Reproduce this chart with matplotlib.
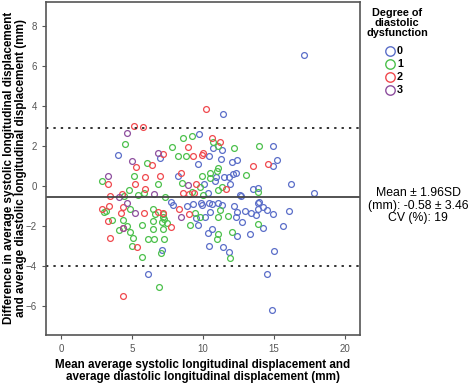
import matplotlib
matplotlib.use("Agg")
import matplotlib.pyplot as plt
from matplotlib.lines import Line2D

plt.rcParams["font.family"] = ["Liberation Sans", "DejaVu Sans"]

# ---------- data -------------------------------------------------------------
grade0_x = [17.09, 11.39, 9.74, 10.73, 11.31, 14.9, 4.04, 6.97, 10.4, 11.27, 12.02,
            12.37, 15.23, 9.67, 14.9, 8.26, 10.92, 11.48, 11.83, 12.11, 12.35, 10.85,
            11.9, 10.1, 16.18, 17.8, 10.37, 12.6, 13.5, 13.9, 7.72, 7.86, 8.85, 9.27,
            9.86, 9.91, 9.51, 9.67, 10.14, 10.42, 10.61, 10.49, 11.03, 11.36, 12.2,
            12.37, 12.3, 12.72, 12.96, 13.38, 13.73, 13.85, 13.96, 13.9, 14.25, 14.49,
            14.95, 16.08, 15.66, 10.33, 10.61, 13.31, 14.25, 10.42, 11.43, 11.83,
            12.37, 15.0, 14.53, 14.84, 12.68, 7.09, 6.13]
grade0_y = [6.53, 3.57, 2.57, 1.87, 1.78, 1.98, 1.53, 1.4, 1.48, 1.32, 1.17,
            1.27, 1.29, 1.07, 0.98, 0.5, 0.44, 0.45, 0.45, 0.6, 0.62, 0.24,
            0.07, 0.1, 0.07, -0.38, -0.38, -0.47, -0.18, -0.13, -0.83, -0.97, -1.02, -0.92,
            -0.85, -0.97, -1.63, -1.97, -1.55, -0.85, -0.93, -1.3, -0.88, -0.97, -1.02,
            -1.3, -1.58, -1.8, -1.25, -1.38, -1.47, -0.85, -0.8, -1.18, -1.08, -1.22,
            -1.42, -1.25, -2.0, -2.35, -2.18, -2.42, -2.1, -3.02, -3.05, -3.33,
            -2.5, -3.27, -4.43, -6.22, -0.5, -3.22, -4.42]

grade1_x = [4.5, 8.57, 9.25, 7.79, 8.21, 8.8, 10.73, 11.08, 12.2, 13.96, 6.08, 5.16,
            9.91, 10.5, 11.08, 10.96, 10.49, 13.03, 2.91, 6.85, 8.5, 9.79, 11.31, 11.08,
            13.9, 4.8, 5.87, 7.32, 9.2, 10.0, 4.46, 5.45, 6.5, 7.16, 7.25, 7.44, 7.09,
            6.45, 5.68, 6.45, 7.16, 6.15, 6.57, 7.25, 7.04, 5.68, 6.93, 9.08, 9.44,
            9.79, 3.15, 3.0, 3.61, 4.39, 4.11, 4.63, 4.88, 5.09, 5.02, 11.2, 11.08,
            11.74, 11.03, 10.96, 12.02, 13.9, 11.9, 4.83, 6.6, 7.18]
grade1_y = [2.07, 2.37, 2.48, 1.95, 1.5, 1.5, 2.2, 1.98, 1.9, 1.98, 1.12, 0.5,
            0.48, 0.62, 0.87, 0.73, 0.4, 0.53, 0.24, 0.07, 0.15, -0.05, -0.05, -0.22,
            -0.3, -0.2, -0.38, -0.58, -0.3, -0.45, -0.52, -0.47, -1.18, -1.55, -1.68, -1.88, -1.8,
            -1.75, -1.97, -2.18, -2.18, -2.68, -2.68, -2.68, -3.38, -3.55, -5.08, -1.97, -1.35,
            -1.58, -1.25, -1.3, -1.72, -1.72, -2.22, -2.02, -2.3, -2.6, -3.02, -1.22, -1.55,
            -1.52, -2.42, -2.68, -2.3, -1.92, -3.63, -1.18, -1.42, -1.42]

grade2_x = [10.21, 5.16, 5.8, 10.61, 11.2, 8.97, 9.32, 9.91, 10.02, 7.21, 6.39, 5.26,
            13.54, 14.6, 5.92, 6.97, 8.43, 3.29, 5.21, 9.51, 5.92, 11.6, 8.61, 9.37,
            9.04, 3.45, 4.27, 2.86, 3.4, 4.23, 4.39, 3.29, 3.45, 5.37, 4.34, 5.87,
            6.85, 7.21, 7.72, 8.33, 9.04, 4.39]
grade2_y = [3.83, 3.0, 2.92, 2.37, 2.2, 1.95, 1.48, 1.53, 1.62, 1.57, 1.03, 0.95,
            0.98, 1.07, 0.45, 0.48, 0.62, 0.07, 0.07, 0.07, -0.17, -0.17, -0.38, -0.38,
            -0.42, -0.5, -0.43, -1.17, -1.02, -1.35, -1.05, -1.75, -2.63, -3.05, -5.52, -1.38,
            -1.3, -1.38, -2.05, -1.18, -1.42, -2.13]

grade3_x = [4.62, 6.85, 4.98, 3.29, 8.97, 6.55, 4.11, 4.67, 5.21, 4.39, 8.45]
grade3_y = [2.62, 1.62, 1.24, 0.5, 0.03, -0.42, -0.58, -0.88, -1.38, -2.13, -1.58]

grades = ["0", "1", "2", "3"]
mean_diff = -0.58
loa = 3.46
cv = 19

BLUE   = "#5b6ec8"
GREEN  = "#4cc04c"
RED    = "#f0494e"
PURPLE = "#8e4f9e"
FRAME  = "#555555"

W, H = 472, 385


def fx(px):
    return px / W


def fy(py):
    return 1 - py / H


# ---------- figure -----------------------------------------------------------
fig = plt.figure(figsize=(W / 100, H / 100), dpi=100)
ax = fig.add_axes([fx(46), fy(335), fx(360) - fx(46), fy(2) - fy(335)])

series = [(grade0_x, grade0_y, BLUE), (grade1_x, grade1_y, GREEN),
          (grade2_x, grade2_y, RED), (grade3_x, grade3_y, PURPLE)]
for xs, ys, col in series:
    ax.plot(xs, ys, ls="none", marker="o", ms=4.2, mfc="none", mec=col, mew=0.9)

ax.axhline(mean_diff, color="#444444", lw=1.3)
for y in (mean_diff + loa, mean_diff - loa):
    ax.axhline(y, color="#333333", lw=1.4, ls=(0, (1.2, 2.6)))

ax.set_xlim(-1.05, 21.05)
ax.set_ylim(-7.47, 9.2)
ax.set_xticks([0, 5, 10, 15, 20])
ax.set_yticks([-6, -4, -2, 0, 2, 4, 6, 8])
ax.tick_params(labelsize=7, colors=FRAME, length=3, width=0.8)
for s in ax.spines.values():
    s.set_color(FRAME)
    s.set_linewidth(1.2)

# axis titles placed by hand, as in the reference
fig.text(fx(203), fy(371),
         "Mean average systolic longitudinal displacement and\n"
         "average diastolic longitudinal displacement (mm)",
         ha="center", va="center", fontsize=8.4, fontweight="bold", linespacing=1.0)
fig.text(fx(15), fy(168), 
         "Difference in average systolic longitudinal displacement\n"
         "and average diastolic longitudinal displacement (mm)",
         ha="center", va="center", rotation=90,
         fontsize=8.4, fontweight="bold", linespacing=1.0)

# legend, drawn by hand
fig.text(fx(397), fy(23), "Degree of\ndiastolic\ndysfunction",
         ha="center", va="center", fontsize=7.8, fontweight="bold", linespacing=0.95)
for i, (lab, col) in enumerate(zip(grades, (BLUE, GREEN, RED, PURPLE))):
    yy = fy(51 + 13 * i)
    fig.add_artist(Line2D([fx(390)], [yy], ls="none", marker="o", ms=6.8,
                          mfc="none", mec=col, mew=1.0))
    fig.text(fx(397), yy, lab, ha="left", va="center",
             fontsize=7.8, fontweight="bold")

fig.text(fx(418), fy(205.5),
         "Mean ± 1.96SD\n(mm): %.2f ± %.2f\nCV (%%): %d" % (mean_diff, loa, cv),
         ha="center", va="center", fontsize=8.8, linespacing=1.0)

fig.savefig("out.png", dpi=100)
